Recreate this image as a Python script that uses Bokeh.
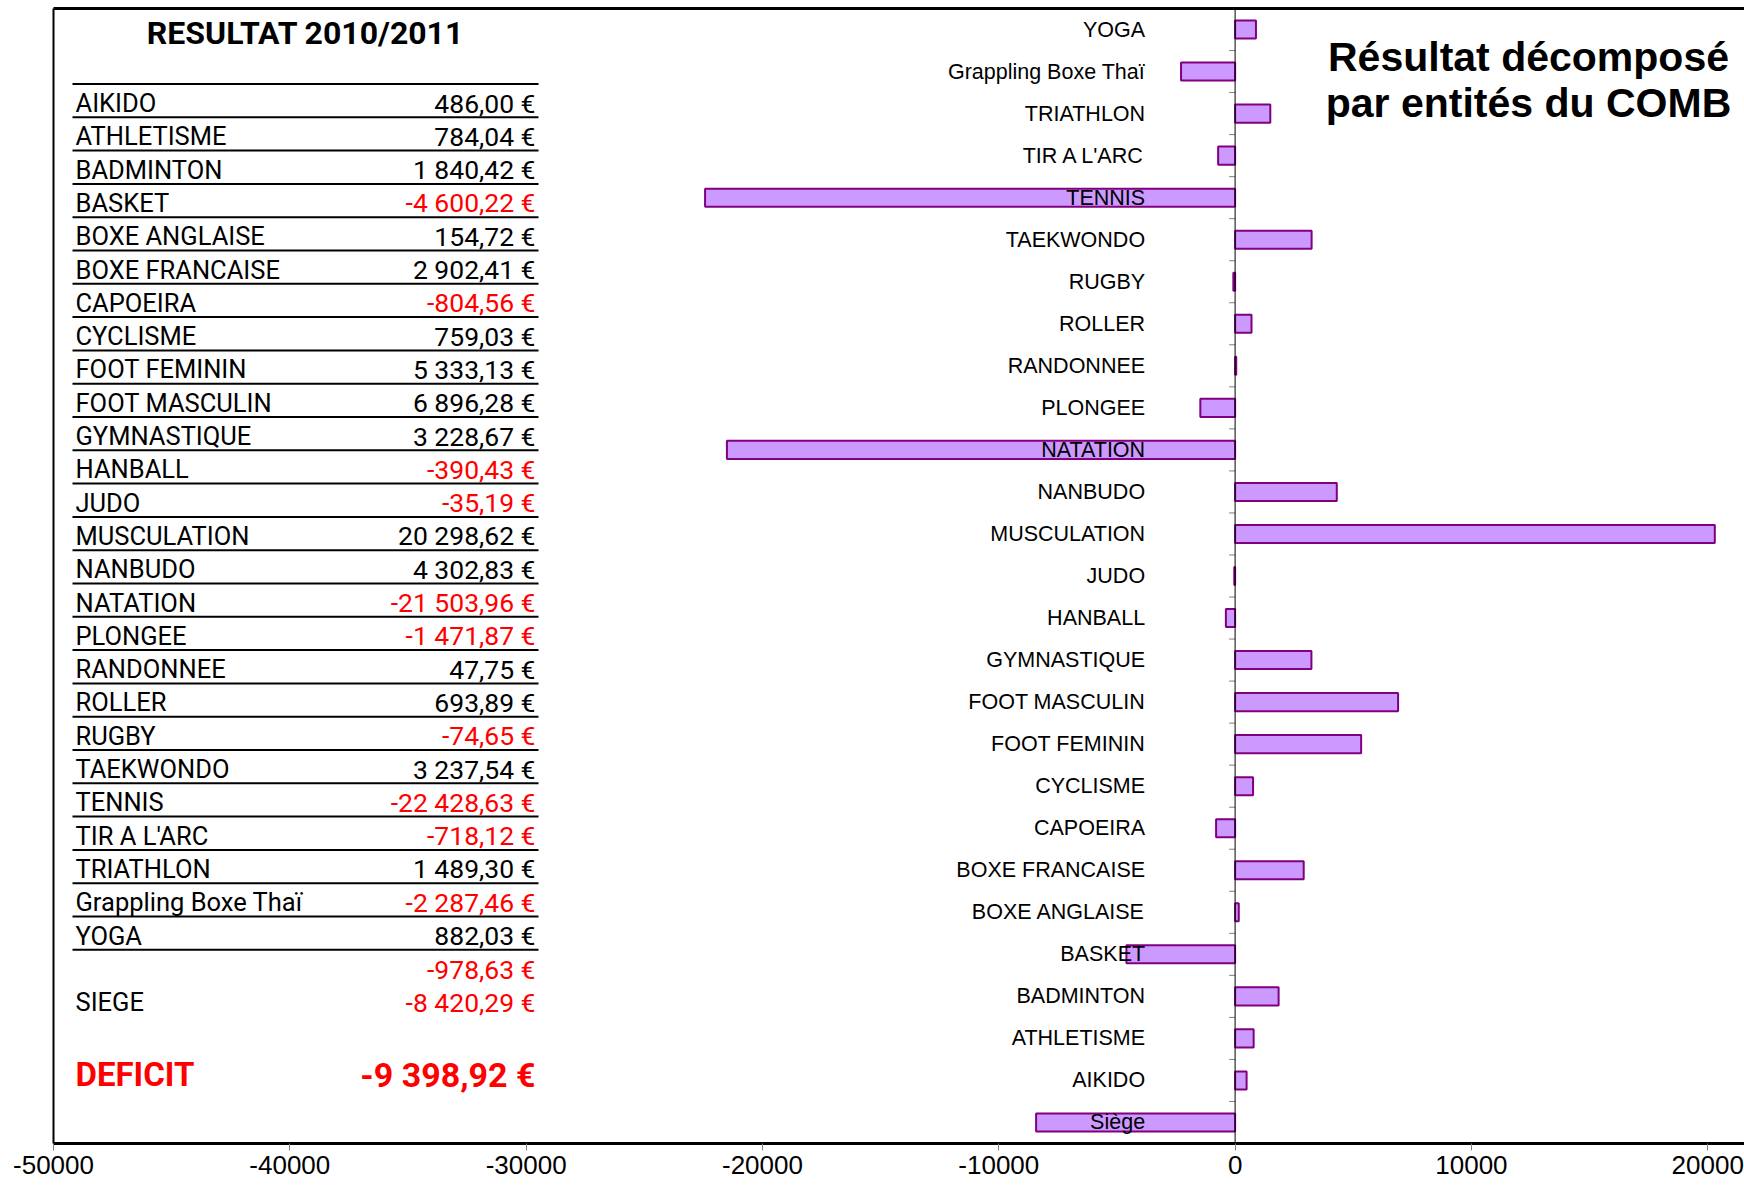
import numpy as np
from bokeh.plotting import figure
from bokeh.models import (ColumnDataSource, FactorRange, Range1d, Span, LinearAxis,
                          FixedTicker)
from bokeh.core.properties import value
from bokeh.embed import file_html
from bokeh.resources import INLINE

# ---------------- data ----------------
entities = ["AIKIDO", "ATHLETISME", "BADMINTON", "BASKET", "BOXE ANGLAISE",
            "BOXE FRANCAISE", "CAPOEIRA", "CYCLISME", "FOOT FEMININ", "FOOT MASCULIN",
            "GYMNASTIQUE", "HANBALL", "JUDO", "MUSCULATION", "NANBUDO", "NATATION",
            "PLONGEE", "RANDONNEE", "ROLLER", "RUGBY", "TAEKWONDO", "TENNIS",
            "TIR A L'ARC", "TRIATHLON", "Grappling Boxe Thaï", "YOGA"]
entity_values = [486.00, 784.04, 1840.42, -4600.22, 154.72,
                 2902.41, -804.56, 759.03, 5333.13, 6896.28,
                 3228.67, -390.43, -35.19, 20298.62, 4302.83, -21503.96,
                 -1471.87, 47.75, 693.89, -74.65, 3237.54, -22428.63,
                 -718.12, 1489.30, -2287.46, 882.03]
siege_chart_label = "Siège"
siege_table_label = "SIEGE"
siege_value = -8420.29
subtotal_value = -978.63
deficit_label = "DEFICIT"
deficit_value = -9398.92
x_ticks = [-50000, -40000, -30000, -20000, -10000, 0, 10000, 20000]
table_title = "RESULTAT 2010/2011"
chart_title = ["Résultat décomposé", "par entités du COMB"]

# ---------------- layout ----------------
W, H = 1744, 1186
FL, FR, FT, FB = 53, 1744, 8, 1143      # frame edges in page pixels
X0, X1 = -50000, 21555

cats = [siege_chart_label] + entities
vals = [siege_value] + entity_values
NC = len(cats)


def dx(px):
    return X0 + (px - FL) * (X1 - X0) / (FR - FL)


def dy(py):
    return NC * (FB - py) / (FB - FT)


def fr_money(v):
    s = f"{abs(v):,.2f}".replace(",", " ").replace(".", ",")
    return ("-" if v < 0 else "") + s + " €"


RED = "#FF0000"

p = figure(width=W, height=H, x_range=Range1d(X0, X1),
           y_range=FactorRange(factors=cats),
           output_backend="svg", toolbar_location=None,
           y_axis_location=None,
           min_border_left=FL, min_border_right=W - FR,
           min_border_top=FT, min_border_bottom=H - FB)
p.outline_line_color = None
p.xgrid.visible = False
p.ygrid.visible = False
p.background_fill_color = "white"
p.border_fill_color = "white"

# x axis
p.xaxis.ticker = FixedTicker(ticks=x_ticks)
p.xaxis.major_label_overrides = {t: str(t) for t in x_ticks}
p.xaxis.axis_line_width = 3
p.xaxis.axis_line_color = "black"
p.xaxis.major_tick_line_color = "#808080"
p.xaxis.major_tick_out = 7
p.xaxis.major_tick_in = 0
p.xaxis.minor_tick_line_color = None
p.xaxis.major_label_standoff = 5
p.xaxis.major_label_text_font = "Liberation Sans"
p.xaxis.major_label_text_font_size = "26px"
p.xaxis.major_label_text_color = "black"

# left border and top border (axes without ticks)
left = LinearAxis(ticker=FixedTicker(ticks=[]), axis_line_width=2, axis_line_color="black",
                  major_tick_out=0, major_tick_in=0, minor_tick_out=0, minor_tick_in=0,
                  major_label_standoff=0)
p.add_layout(left, "left")
top = LinearAxis(ticker=FixedTicker(ticks=[]), axis_line_width=3, axis_line_color="black",
                 major_tick_out=0, major_tick_in=0, minor_tick_out=0, minor_tick_in=0,
                 major_label_standoff=0)
p.add_layout(top, "above")

# bars
src = ColumnDataSource(dict(cat=cats, val=vals))
p.hbar(y="cat", left=0, right="val", height=0.43, source=src,
       fill_color="#CC99FF", line_color="#800080", line_width=2)

# zero (category) axis line
p.add_layout(Span(location=0, dimension="height", line_color="black", line_width=1))

# category tick marks on zero line
tick_len = 6 * (X1 - X0) / (FR - FL)
bounds = list(range(1, NC))
p.segment(x0=[0] * len(bounds), x1=[-tick_len] * len(bounds), y0=bounds, y1=bounds,
          line_color="#808080", line_width=1)

# category labels
p.text(x=0, y="cat", text="cat", source=src, x_offset=-90,
       text_align="right", text_baseline="middle",
       text_font=value("Liberation Sans"), text_font_size=value("21.5px"),
       text_color="black")

# ---------------- table ----------------
LINE0, PITCH = 83.5, 33.3
TX_L, TX_R = 75, 535
lines_y = [dy(LINE0 + k * PITCH) for k in range(len(entities) + 1)]
p.segment(x0=[dx(72)] * len(lines_y), x1=[dx(538)] * len(lines_y), y0=lines_y, y1=lines_y,
          line_color="black", line_width=2)

row_y = [dy(LINE0 + i * PITCH + 19) for i in range(len(entities))]
tsrc = ColumnDataSource(dict(
    y=row_y, name=entities,
    val=[fr_money(v) for v in entity_values],
    col=[RED if v < 0 else "black" for v in entity_values]))
p.text(x=dx(TX_L), y="y", text="name", source=tsrc, text_align="left",
       text_baseline="middle", text_font=value("Roboto"),
       text_font_size=value("25.5px"), text_color="black")
p.text(x=dx(TX_R), y="y", text="val", source=tsrc, text_align="right",
       text_baseline="middle", text_font=value("Roboto"),
       text_font_size=value("26.5px"), text_color="col")

# subtotal, siege
p.text(x=[dx(TX_R)], y=[dy(968.5)], text=[fr_money(subtotal_value)], text_align="right",
       text_baseline="middle", text_font=value("Roboto"),
       text_font_size=value("26.5px"), text_color=RED if subtotal_value < 0 else "black")
p.text(x=[dx(TX_L)], y=[dy(1001.7)], text=[siege_table_label], text_align="left",
       text_baseline="middle", text_font=value("Roboto"),
       text_font_size=value("25.5px"), text_color="black")
p.text(x=[dx(TX_R)], y=[dy(1001.7)], text=[fr_money(siege_value)], text_align="right",
       text_baseline="middle", text_font=value("Roboto"),
       text_font_size=value("26.5px"), text_color=RED if siege_value < 0 else "black")

# deficit
p.text(x=[dx(TX_L)], y=[dy(1074.2)], text=[deficit_label], text_align="left",
       text_baseline="middle", text_font=value("Roboto"), text_font_style="bold",
       text_font_size=value("33px"), text_color=RED)
p.text(x=[dx(TX_R)], y=[dy(1074.2)], text=[fr_money(deficit_value)], text_align="right",
       text_baseline="middle", text_font=value("Roboto"), text_font_style="bold",
       text_font_size=value("34px"), text_color=RED)

# table title
p.text(x=[dx(305)], y=[dy(32.5)], text=[table_title], text_align="center",
       text_baseline="middle", text_font=value("Roboto"), text_font_style="bold",
       text_font_size=value("32px"), text_color="black")

# chart title
p.text(x=[dx(1528)] * 2, y=[dy(57), dy(102.5)], text=chart_title, text_align="center",
       text_baseline="middle", text_font=value("Liberation Sans"), text_font_style="bold",
       text_font_size=value("41px"), text_color="black")

open("out.html", "w").write(file_html(p, INLINE))
